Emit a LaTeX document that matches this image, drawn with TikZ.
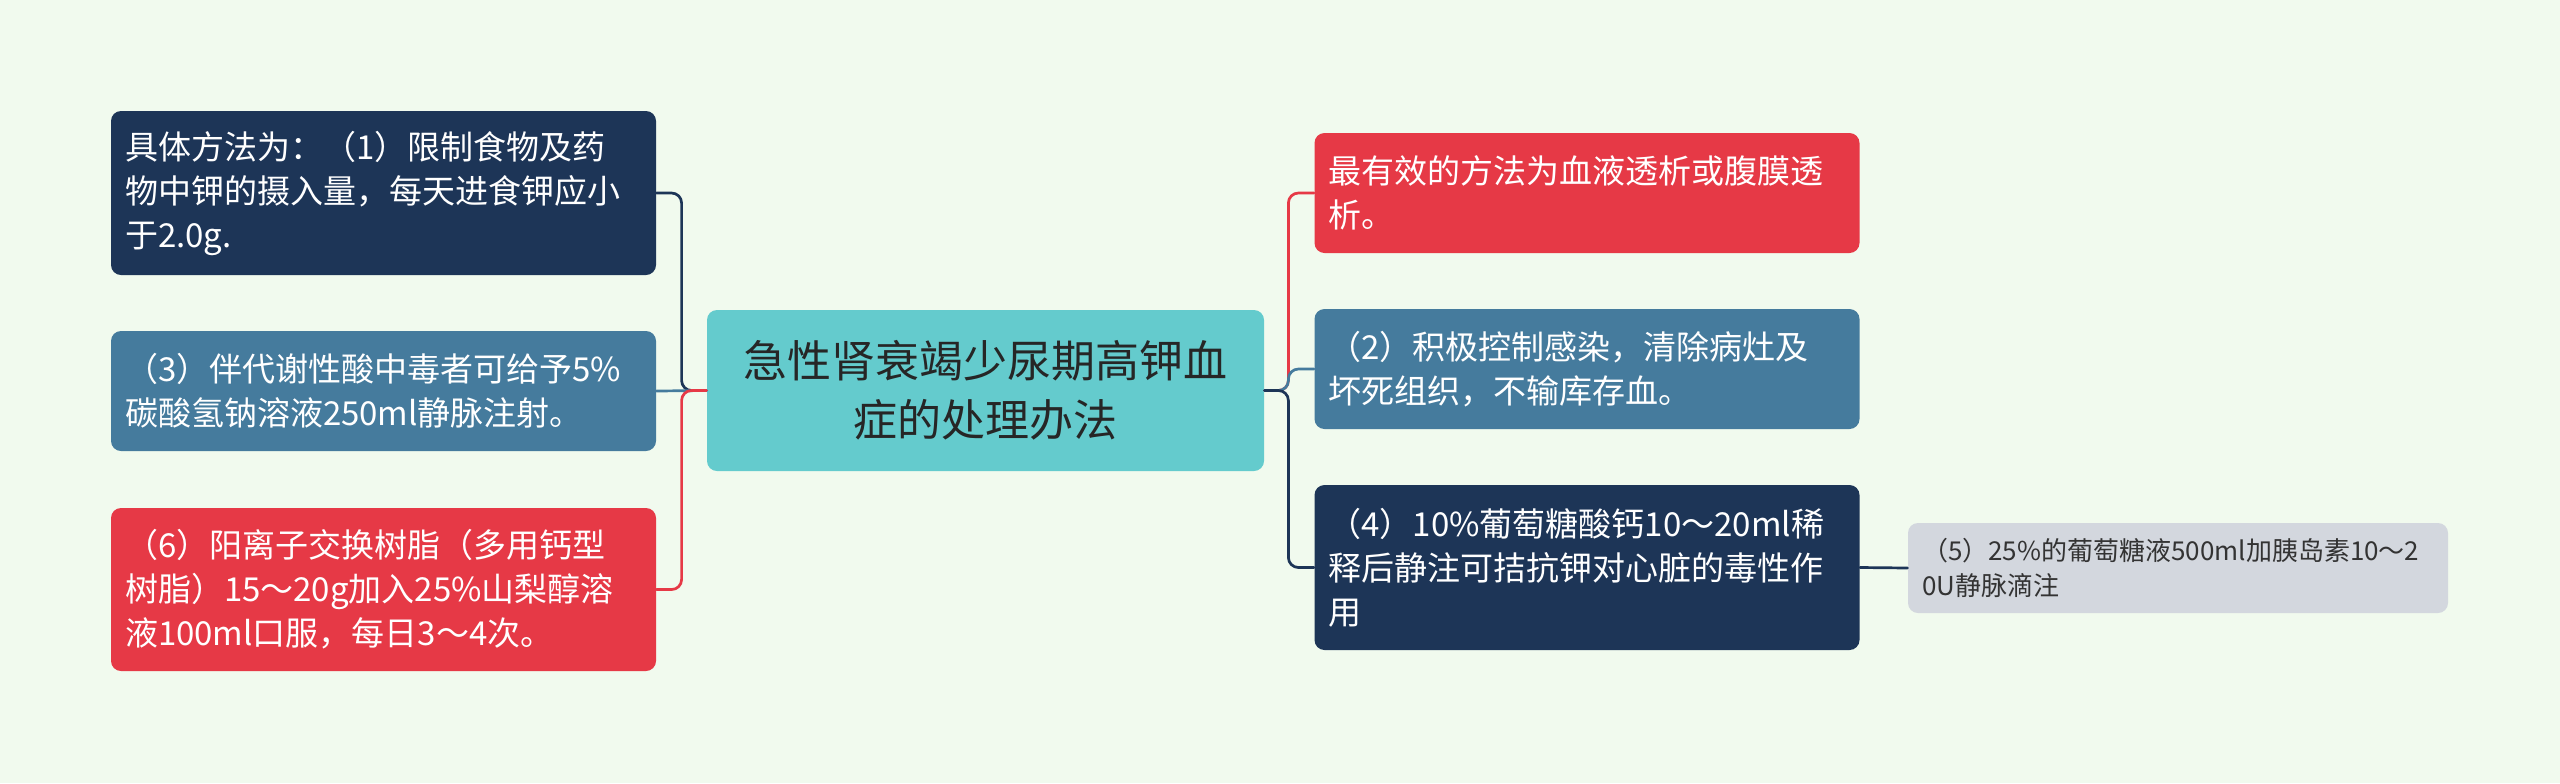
\documentclass[tikz,border=0pt]{standalone}
\usepackage{fontspec}
\setmainfont{Noto Sans CJK SC}
\definecolor{cNavy}{HTML}{1D3557}
\definecolor{cSteel}{HTML}{457B9D}
\definecolor{cRed}{HTML}{E63946}
\definecolor{cTeal}{HTML}{64CBCD}
\definecolor{cGray}{HTML}{D3D7DE}
\definecolor{cBack}{HTML}{F1FAEE}
\begin{document}
\begin{tikzpicture}[x=0.5pt, y=-0.5pt, line cap=round, line join=round]
	\tikzset{box style/.style={rounded corners=5pt, align=left, inner xsep=7pt, text width=258.5pt, minimum width=272.5pt, text=white, font=\fontsize{16.5}{22}\selectfont},
		root style/.style={rounded corners=5pt, fill=cTeal, align=center, text width=264pt, minimum width=278.5pt, minimum height=80.5pt, text=black!85, font=\fontsize{22}{29.5}\selectfont},
		leaf style/.style={rounded corners=5pt, fill=cGray, align=left, inner xsep=7pt, text width=256pt, minimum width=270pt, minimum height=45pt, text=black!80, font=\fontsize{13}{17.5}\selectfont},
		link/.style={line width=1.35pt, rounded corners=5pt}}
	\fill[cBack] (0,0) rectangle (2560,783);
	\useasboundingbox (0,0) rectangle (2560,783);
	\node[root style] (root) at (985.5,390.5) {急性肾衰竭少尿期高钾血\\症的处理办法};
	\node[box style, fill=cNavy, minimum height=82pt] (l1) at (383.5,193) {具体方法为：（1）限制食物及药\\物中钾的摄入量，每天进食钾应小\\于2.0g.};
	\node[box style, fill=cSteel, minimum height=60pt] (l2) at (383.5,391) {（3）伴代谢性酸中毒者可给予5\%\\碳酸氢钠溶液250ml静脉注射。};
	\node[box style, fill=cRed, minimum height=81.5pt] (l3) at (383.5,589.5) {（6）阳离子交换树脂（多用钙型\\树脂）15～20g加入25\%山梨醇溶\\液100ml口服，每日3～4次。};
	\node[box style, fill=cRed, minimum height=60pt] (r1) at (1587,193) {最有效的方法为血液透析或腹膜透\\析。};
	\node[box style, fill=cSteel, minimum height=60pt] (r2) at (1587,369) {（2）积极控制感染，清除病灶及\\坏死组织，不输库存血。};
	\node[box style, fill=cNavy, minimum height=82.5pt] (r3) at (1587,567.5) {（4）10\%葡萄糖酸钙10～20ml稀\\释后静注可拮抗钾对心脏的毒性作\\用};
	\node[leaf style] (r3a) at (2178,568) {（5）25\%的葡萄糖液500ml加胰岛素10～2\\0U静脉滴注};
	\draw[link, cNavy] (root.west) -- ++(-25,0) |- (l1.east);
	\draw[link, cSteel] (root.west) -- (l2.east);
	\draw[link, cRed] (root.west) -- ++(-25,0) |- (l3.east);
	\draw[link, cRed] (root.east) -- ++(24,0) |- (r1.west);
	\draw[link, cSteel] (root.east) -- ++(24,0) |- (r2.west);
	\draw[link, cNavy] (root.east) -- ++(24,0) |- (r3.west);
	\draw[link, cNavy] (r3.east) -- (r3a.west);
\end{tikzpicture}
\end{document}
